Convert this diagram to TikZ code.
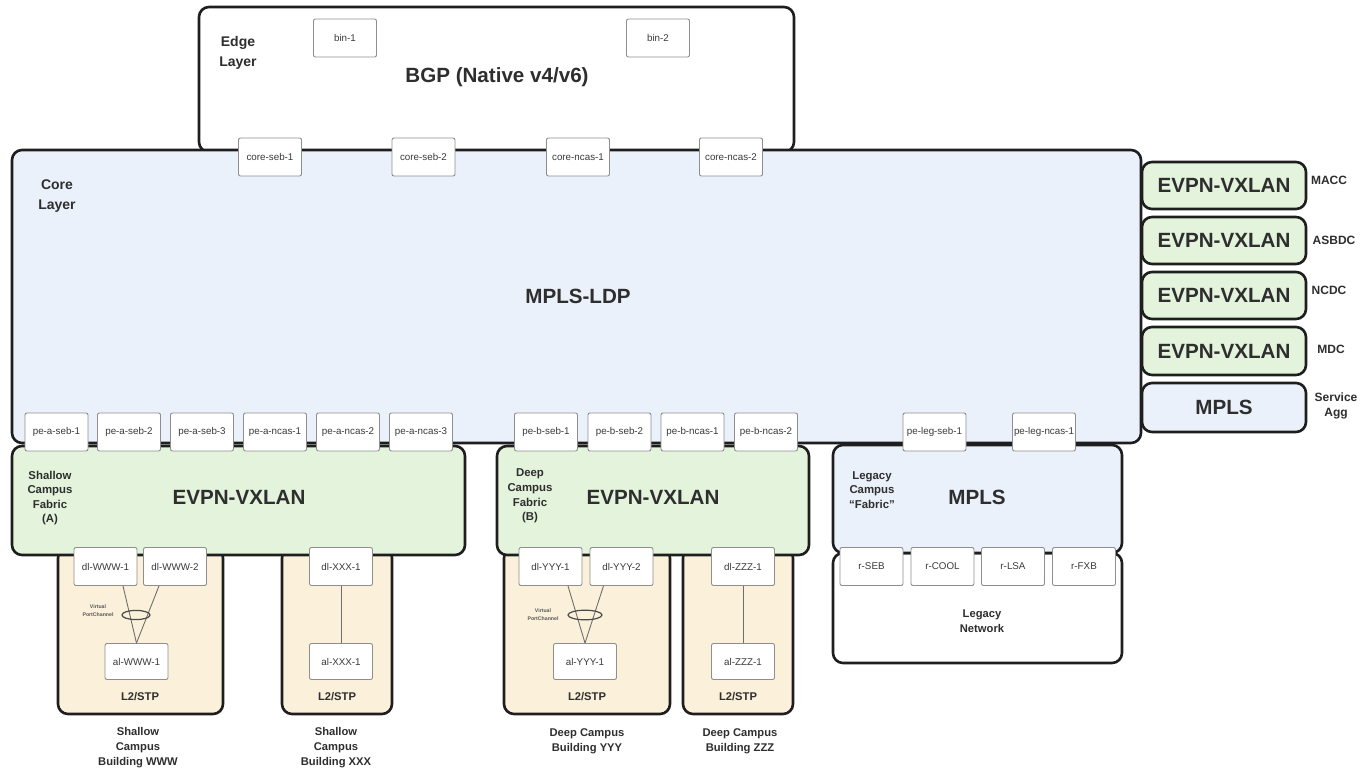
\documentclass[tikz,border=0pt]{standalone}
\usepackage{fontspec}
\setmainfont{Liberation Sans}
\usetikzlibrary{fit,shapes.geometric}
\definecolor{edgeclr}{HTML}{1E1E1E}
\definecolor{devline}{HTML}{8E8E8E}
\definecolor{txt}{HTML}{2E2E2E}
\definecolor{txtdev}{HTML}{3A3A3A}
\definecolor{corefill}{HTML}{EAF1FA}
\definecolor{greenfill}{HTML}{E3F3DC}
\definecolor{tanfill}{HTML}{FBF0DA}
\definecolor{linkclr}{HTML}{6E6E6E}
\newcommand\fsz[2]{\fontsize{#1}{#2}\selectfont}
% a region drawn as a rounded box spanning two corners (x1,y1) -- (x2,y2)
\newcommand\region[6]{\node[layer,#6,fit={(#2,#3) (#4,#5)}] (#1) {};}
\tikzset{
  layer/.style={draw=edgeclr, line width=1.3pt, rounded corners=5pt, inner sep=0pt},
  dev/.style={draw=devline, fill=white, line width=0.45pt, rounded corners=1pt,
    inner sep=0pt, minimum width=31.5pt, minimum height=19pt,
    font=\fsz{4.9}{6}, text=txtdev},
  lbl/.style={font=\bfseries\fsz{6}{7.2}, text=txt, align=center},
  lyr/.style={font=\bfseries\fsz{7}{10}, text=txt, align=center},
  proto/.style={font=\bfseries\fsz{10.3}{12}, text=txt},
  blbl/.style={font=\bfseries\fsz{5.6}{7.5}, text=txt, align=center},
  vpc/.style={font=\bfseries\fsz{2.6}{4}, text=txt!80, align=center},
  link/.style={draw=linkclr, line width=0.45pt},
  ring/.style={draw=edgeclr!80, line width=0.6pt},
}
\begin{document}
\begin{tikzpicture}[x=0.5pt,y=-0.5pt]
\useasboundingbox (0,0) rectangle (1367,771);

% ---------- access pods (drawn first, fabrics overlap their tops)
\region{podW}{58}{548}{223}{714}{fill=tanfill}
\region{podX}{282}{548}{392}{714}{fill=tanfill}
\region{podY}{504}{548}{670}{714}{fill=tanfill}
\region{podZ}{683}{548}{793}{714}{fill=tanfill}

% ---------- edge and core layers
\region{edge}{199}{7}{794}{152}{fill=white}
\region{core}{12}{150}{1141}{443}{fill=corefill}

% ---------- campus fabrics and legacy network
\region{fabA}{12}{446}{465}{555}{fill=greenfill}
\region{fabB}{497}{446}{809}{555}{fill=greenfill}
\region{legN}{833}{553}{1122}{663}{fill=white}
\region{legM}{833}{445}{1122}{553}{fill=corefill}

% ---------- data centre / service fabrics on the right
\region{dcA}{1142}{162}{1306}{209}{fill=greenfill}
\region{dcB}{1142}{217}{1306}{264}{fill=greenfill}
\region{dcC}{1142}{272}{1306}{319}{fill=greenfill}
\region{dcD}{1142}{327}{1306}{375}{fill=greenfill}
\region{svc}{1142}{383}{1306}{432}{fill=corefill}

% ---------- region labels
\node[lyr] (edgelbl) at (238,53) {Edge\\Layer};
\node[proto] (bgp) at (497,77) {BGP (Native v4/v6)};
\node[lyr] (corelbl) at (57,196) {Core\\Layer};
\node[proto] (ldp) at (578,296) {MPLS-LDP};

\node[lbl, font=\bfseries\fsz{5.7}{7.3}] (fabAlbl) at (50,498) {Shallow\\Campus\\Fabric\\(A)};
\node[proto] (fabAp) at (239,497) {EVPN-VXLAN};
\node[lbl, font=\bfseries\fsz{5.7}{7.3}] (fabBlbl) at (530,496) {Deep\\Campus\\Fabric\\(B)};
\node[proto] (fabBp) at (653,497) {EVPN-VXLAN};
\node[lbl, font=\bfseries\fsz{5.7}{7.3}] (legMlbl) at (872,490) {Legacy\\Campus\\\textquotedblleft Fabric\textquotedblright};
\node[proto] (legMp) at (977,497) {MPLS};
\node[blbl] (legNlbl) at (982,621) {Legacy\\Network};

\node[proto] (dcAp) at (dcA.center) {EVPN-VXLAN};
\node[proto] (dcBp) at (dcB.center) {EVPN-VXLAN};
\node[proto] (dcCp) at (dcC.center) {EVPN-VXLAN};
\node[proto] (dcDp) at (dcD.center) {EVPN-VXLAN};
\node[proto] (svcp) at (svc.center) {MPLS};
\node[lbl] (dcAlbl) at (1329,180) {MACC};
\node[lbl] (dcBlbl) at (1334,240) {ASBDC};
\node[lbl] (dcClbl) at (1329,290) {NCDC};
\node[lbl] (dcDlbl) at (1331,349) {MDC};
\node[lbl] (svclbl) at (1336,406) {Service\\Agg};

% ---------- devices
\node[dev] (bin1) at (345,38) {bin-1};
\node[dev] (bin2) at (658,38) {bin-2};

\node[dev] (cs1) at (270,157) {core-seb-1};
\node[dev] (cs2) at (423.5,157) {core-seb-2};
\node[dev] (cn1) at (578,157) {core-ncas-1};
\node[dev] (cn2) at (731,157) {core-ncas-2};

\node[dev] (pas1) at (56.5,432) {pe-a-seb-1};
\node[dev] (pas2) at (129,432) {pe-a-seb-2};
\node[dev] (pas3) at (202,432) {pe-a-seb-3};
\node[dev] (pan1) at (275,432) {pe-a-ncas-1};
\node[dev] (pan2) at (348,432) {pe-a-ncas-2};
\node[dev] (pan3) at (421,432) {pe-a-ncas-3};

\node[dev] (pbs1) at (546,432) {pe-b-seb-1};
\node[dev] (pbs2) at (619.5,432) {pe-b-seb-2};
\node[dev] (pbn1) at (692.5,432) {pe-b-ncas-1};
\node[dev] (pbn2) at (766,432) {pe-b-ncas-2};

\node[dev] (pls1) at (934.5,432) {pe-leg-seb-1};
\node[dev] (pln1) at (1044,432) {pe-leg-ncas-1};

\node[dev] (rseb) at (871.5,566.5) {r-SEB};
\node[dev] (rcool) at (942.5,566.5) {r-COOL};
\node[dev] (rlsa) at (1013,566.5) {r-LSA};
\node[dev] (rfxb) at (1084,566.5) {r-FXB};

\node[dev] (dlw1) at (105.5,566.5) {dl-WWW-1};
\node[dev] (dlw2) at (175,566.5) {dl-WWW-2};
\node[dev, minimum height=18pt] (alw1) at (136.5,661.5) {al-WWW-1};
\node[dev] (dlx1) at (341,566.5) {dl-XXX-1};
\node[dev, minimum height=18pt] (alx1) at (341,661.5) {al-XXX-1};
\node[dev] (dly1) at (550.5,566.5) {dl-YYY-1};
\node[dev] (dly2) at (621.5,566.5) {dl-YYY-2};
\node[dev, minimum height=18pt] (aly1) at (585,661.5) {al-YYY-1};
\node[dev] (dlz1) at (743,566.5) {dl-ZZZ-1};
\node[dev, minimum height=18pt] (alz1) at (743,661.5) {al-ZZZ-1};

% ---------- access links
\draw[link] ([xshift=8.75pt]dlw1.south) -- (alw1.north);
\draw[link] ([xshift=-8pt]dlw2.south) -- (alw1.north);
\draw[link] (dlx1) -- (alx1);
\draw[link] ([xshift=8.75pt]dly1.south) -- (aly1.north);
\draw[link] ([xshift=-9pt]dly2.south) -- (aly1.north);
\draw[link] (dlz1) -- (alz1);

% virtual port-channel bundles
\node[ring, ellipse, minimum width=14pt, minimum height=4.6pt, inner sep=0pt] (vpcW) at (136,615) {};
\node[vpc] (vpcWlbl) at (98,611) {Virtual\\PortChannel};
\node[ring, ellipse, minimum width=17pt, minimum height=4.8pt, inner sep=0pt] (vpcY) at (585,615) {};
\node[vpc] (vpcYlbl) at (543,615) {Virtual\\PortChannel};

% ---------- pod captions
\node[blbl] (l2w) at (140,697) {L2/STP};
\node[blbl] (l2x) at (337,697) {L2/STP};
\node[blbl] (l2y) at (587,697) {L2/STP};
\node[blbl] (l2z) at (738,697) {L2/STP};

\node[blbl] (bldW) at (138,748) {Shallow\\Campus\\Building WWW};
\node[blbl] (bldX) at (336,748) {Shallow\\Campus\\Building XXX};
\node[blbl] (bldY) at (587,741) {Deep Campus\\Building YYY};
\node[blbl] (bldZ) at (740,741) {Deep Campus\\Building ZZZ};
\end{tikzpicture}
\end{document}
